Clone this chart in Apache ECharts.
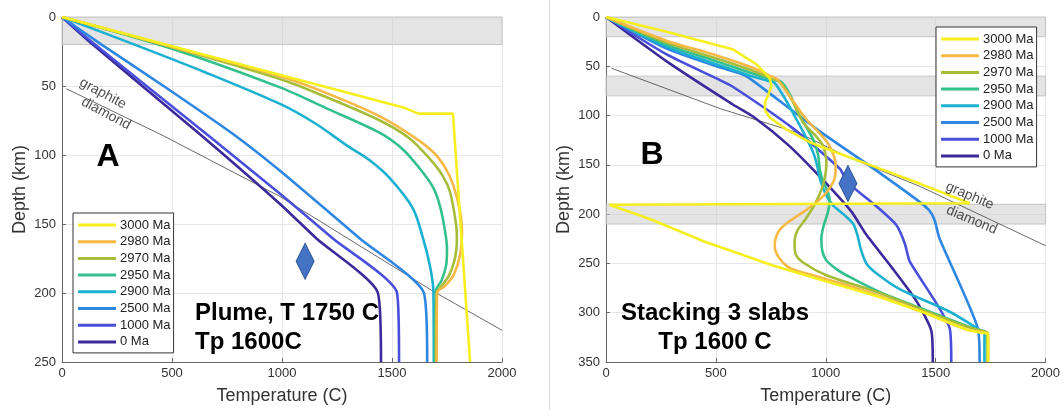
<!DOCTYPE html>
<html>
<head>
<meta charset="utf-8">
<script src="https://cdn.jsdelivr.net/npm/echarts@6/dist/echarts.min.js"></script>
<style>
html, body { margin: 0; padding: 0; background: #fff; }
#main { width: 1063px; height: 410px; }
</style>
</head>
<body>
<div id="main"></div>
<script>
// legend entries and colours (parula-like)
var ages = ['3000 Ma', '2980 Ma', '2970 Ma', '2950 Ma', '2900 Ma', '2500 Ma', '1000 Ma', '0 Ma'];
var ageColors = ['#F5EF1F', '#F6B945', '#A5BD3B', '#33C08C', '#1DB1D1', '#2E87E3', '#4A4FDB', '#3B2A9C'];

var tempRange = [0, 2000];
var depthMaxA = 250;
var depthMaxB = 350;

// grey slab bands (depth km)
var bandsA = [[0, 20]];
var bandsB = [[0, 20], [60, 80], [190, 210]];

// graphite / diamond boundary [T, depth]
var gdLineA = [[20, 52], [460, 86], [990, 130], [1690, 199], [2000, 227]];
var gdLineB = [[25, 52], [520, 93], [880, 118], [1110, 143], [1430, 172], [2000, 232]];
var gdLabelsA = [[186, 55.5, 'graphite'], [200, 70, 'diamond']];
var gdLabelsB = [[1655, 181.5, 'graphite'], [1664, 206, 'diamond']];

var diamondA = [[1105, 177]];
var diamondB = [[1101, 169]];

// panel A: plume, T 1750 C
var plume3000 = [[0,0],[1560,66],[1620,70],[1777,70],[1855,250]];
var plume2980 = [[0,0],[500,21.5],[991,43],[1200,55],[1445,72],[1600,87],[1688,98],[1745,110],[1779,122],[1808,140],[1818,155],[1810,172],[1780,187],[1740,195],[1705,200],[1703,250]];
var plume2970 = [[0,0],[500,22],[991,45],[1200,58],[1445,75],[1580,88],[1673,103],[1730,115],[1764,127],[1791,150],[1795,162],[1786,175],[1760,187],[1725,195],[1703,200],[1700,250]];
var plume2950 = [[0,0],[500,23],[991,51],[1200,66],[1445,84],[1550,96],[1627,110],[1685,123],[1718,137],[1741,155],[1750,168],[1746,180],[1725,191],[1700,198],[1695,250]];
var plume2900 = [[0,0],[330,20],[650,40],[991,63],[1150,77],[1294,93],[1400,104],[1491,117],[1596,139],[1642,161],[1672,180],[1688,198],[1690,250]];
var plume2500 = [[0,0],[180,20],[480,52],[779,85],[991,111.5],[1355,160.7],[1645,200],[1660,250]];
var plume1000 = [[0,0],[150,20],[658,85],[991,128],[1233,160.7],[1523,200],[1532,250]];
var plume0 = [[0,0],[140,20],[627,85],[991,135.5],[1158,160.7],[1436,200],[1450,250]];

// panel B: stacking 3 slabs
var stack3000 = [[0,0],[276,15],[579,33],[685,48],[745,62],[753,70],[740,78],[725,86],[722,94],[745,102],[790,109],[821,114],[927,127],[1018,135],[1200,150],[1427,169],[1655,189],[1655,190.5],[15,190.5],[200,205],[450,228],[760,252],[1000,268],[1245,284],[1450,300],[1640,317],[1700,320],[1738,321],[1738,350]];
var stack2980 = [[0,0],[276,24],[503,39],[650,50],[750,60],[783,64],[850,85],[912,104],[980,120],[1018,131],[1045,150],[1040,164],[1010,176],[973,185],[897,198],[830,208],[790,216],[770,226],[768,233],[790,245],[840,255],[942,262],[1094,272],[1245,283],[1450,300],[1640,317],[1720,320],[1738,322],[1738,350]];
var stack2970 = [[0,0],[276,26],[503,42],[650,53],[750,62],[791,66],[850,86],[897,107],[960,122],[988,131],[1003,148],[995,164],[975,178],[945,192],[905,206],[870,217],[858,228],[862,240],[897,249],[1003,262],[1245,280],[1450,298],[1640,314],[1720,319],[1738,321],[1738,350]];
var stack2950 = [[0,0],[276,28],[503,45],[650,56],[750,63],[798,66],[840,80],[874,97],[942,124],[965,140],[973,155],[985,165],[1010,178],[1018,186],[1010,198],[990,212],[980,225],[985,238],[1003,247],[1050,256],[1094,262],[1245,279],[1450,297],[1685,317],[1730,320],[1735,350]];
var stack2900 = [[0,0],[276,30],[503,48],[650,59],[740,65],[768,67],[820,85],[867,104],[910,122],[942,137],[960,150],[973,164],[1000,180],[1033,191],[1080,200],[1125,210],[1145,222],[1160,236],[1185,250],[1230,260],[1336,276],[1564,299],[1712,319],[1722,320],[1722,350]];
var stack2500 = [[0,0],[276,32],[503,50],[620,58],[662,63.5],[973,116],[1200,151],[1412,185],[1470,196],[1495,206],[1518,225],[1692,316],[1700,350]];
var stack1000 = [[0,0],[276,38],[518,64],[579,71],[845,112],[1064,154],[1101,168],[1230,192],[1321,211],[1360,230],[1382,248],[1564,316],[1571,350]];
var stack0 = [[0,0],[276,45],[579,89],[669,101],[830,130],[973,162],[1115,197],[1185,221],[1300,254],[1412,288],[1480,318],[1487,350]];

var plumeCurves = [plume3000, plume2980, plume2970, plume2950, plume2900, plume2500, plume1000, plume0];
var stackCurves = [stack3000, stack2980, stack2970, stack2950, stack2900, stack2500, stack1000, stack0];
var plumeSmooth = [0, 0.3, 0.3, 0.3, 0.3, 0.2, 0.2, 0.2];
var stackSmooth = [0, 0.3, 0.3, 0.3, 0.3, 0.2, 0.2, 0.2];

var FONT = 'Arial, "Liberation Sans", Helvetica, sans-serif';

var grids = [
    { left: 62, top: 17, width: 440, height: 347 },
    { left: 606, top: 17, width: 440, height: 347 }
];

function plainNum(v) { return String(v); }

function xAxisFor(i) {
    return {
        gridIndex: i, type: 'value', min: tempRange[0], max: tempRange[1], interval: 500,
        position: 'bottom',
        name: 'Temperature (C)', nameLocation: 'middle', nameGap: 25,
        nameTextStyle: { fontSize: 18, color: '#333', fontFamily: FONT },
        axisLine: { show: true, onZero: false, lineStyle: { color: '#666', width: 1 } },
        axisTick: { show: true, inside: true, length: 4, lineStyle: { color: '#666' } },
        axisLabel: { fontSize: 13, color: '#333', margin: 5, fontFamily: FONT, formatter: plainNum },
        splitLine: { show: true, lineStyle: { color: '#e6e6e6', width: 1 } }
    };
}
function yAxisFor(i, max) {
    return {
        gridIndex: i, type: 'value', min: 0, max: max, interval: 50, inverse: true,
        position: 'left',
        name: 'Depth (km)', nameLocation: 'middle', nameGap: 33,
        nameTextStyle: { fontSize: 18, color: '#333', fontFamily: FONT },
        axisLine: { show: true, onZero: false, lineStyle: { color: '#666', width: 1 } },
        axisTick: { show: true, inside: true, length: 4, lineStyle: { color: '#666' } },
        axisLabel: { fontSize: 13, color: '#333', margin: 6, fontFamily: FONT, formatter: plainNum },
        splitLine: { show: true, lineStyle: { color: '#e6e6e6', width: 1 } }
    };
}

function bandAreas(bands) {
    return bands.map(function (b) {
        return [{ yAxis: b[0], xAxis: tempRange[0] }, { yAxis: b[1], xAxis: tempRange[1] }];
    });
}

var series = [];
function addPanel(i, curves, smooth, bands, gdLine, gdLabels, diamond, rot) {
    series.push({
        type: 'line', xAxisIndex: i, yAxisIndex: i, name: 'gd' + i,
        data: gdLine, showSymbol: false, symbol: 'none', z: 1, silent: true,
        lineStyle: { color: '#444', width: 0.8 },
        markArea: {
            silent: true,
            itemStyle: { color: 'rgba(205,205,205,0.55)', borderColor: '#c4c4c4', borderWidth: 1 },
            data: bandAreas(bands)
        }
    });
    curves.forEach(function (c, k) {
        series.push({
            type: 'line', name: ages[k], xAxisIndex: i, yAxisIndex: i,
            data: c, showSymbol: false, symbol: 'none', smooth: smooth[k], z: 2 + (8 - k) * 0.01,
            color: ageColors[k],
            lineStyle: { color: ageColors[k], width: 2.6 }
        });
    });
    series.push({
        type: 'scatter', xAxisIndex: i, yAxisIndex: i, name: 'lbl' + i,
        data: gdLabels.map(function (d) { return { value: [d[0], d[1]], label: { formatter: d[2] } }; }),
        symbolSize: 1, itemStyle: { color: 'transparent' }, z: 5, silent: true,
        label: { show: true, position: 'inside', rotate: rot, fontSize: 14, color: '#222', fontFamily: FONT }
    });
    series.push({
        type: 'scatter', xAxisIndex: i, yAxisIndex: i, name: 'dm' + i,
        data: diamond, symbol: 'diamond', symbolSize: [18, 36], z: 6, silent: true,
        itemStyle: { color: '#4472C4', borderColor: '#2F5597', borderWidth: 1, opacity: 1 }
    });
}
addPanel(0, plumeCurves, plumeSmooth, bandsA, gdLineA, gdLabelsA, diamondA, -28);
addPanel(1, stackCurves, stackSmooth, bandsB, gdLineB, gdLabelsB, diamondB, -23);

function legendAt(left, top) {
    return {
        data: ages, orient: 'vertical', left: left, top: top,
        icon: 'rect', itemWidth: 38, itemHeight: 3, itemGap: 2.7,
        padding: [5, 3, 4, 5],
        backgroundColor: '#fff', borderColor: '#333', borderWidth: 1, borderRadius: 0,
        selectedMode: false,
        textStyle: { fontSize: 13, color: '#222', lineHeight: 14, fontFamily: FONT, padding: [0, 0, 0, -1] }
    };
}

var bigText = { fontFamily: FONT, fontWeight: 'bold', fill: '#000' };
var graphics = [
    { type: 'line', shape: { x1: 549.5, y1: 0, x2: 549.5, y2: 410 }, style: { stroke: '#dddddd', lineWidth: 1 } },
    { type: 'text', x: 108, y: 157, style: Object.assign({ text: 'A', fontSize: 32, align: 'center', verticalAlign: 'middle' }, bigText) },
    { type: 'text', x: 652, y: 155, style: Object.assign({ text: 'B', fontSize: 32, align: 'center', verticalAlign: 'middle' }, bigText) },
    { type: 'text', x: 195, y: 313, style: Object.assign({ text: 'Plume, T 1750 C', fontSize: 24, align: 'left', verticalAlign: 'middle' }, bigText) },
    { type: 'text', x: 195, y: 342, style: Object.assign({ text: 'Tp 1600C', fontSize: 24, align: 'left', verticalAlign: 'middle' }, bigText) },
    { type: 'text', x: 715, y: 313, style: Object.assign({ text: 'Stacking 3 slabs', fontSize: 24, align: 'center', verticalAlign: 'middle' }, bigText) },
    { type: 'text', x: 715, y: 342, style: Object.assign({ text: 'Tp 1600 C', fontSize: 24, align: 'center', verticalAlign: 'middle' }, bigText) }
];
graphics.forEach(function (g) { g.z = 10; g.silent = true; });

var chart = echarts.init(document.getElementById('main'), null, { renderer: 'canvas' });
chart.setOption({
    animation: false,
    backgroundColor: '#fff',
    textStyle: { fontFamily: FONT },
    grid: grids,
    xAxis: [xAxisFor(0), xAxisFor(1)],
    yAxis: [yAxisFor(0, depthMaxA), yAxisFor(1, depthMaxB)],
    legend: [legendAt(73, 213), legendAt(936, 27)],
    series: series,
    graphic: graphics
});
</script>
</body>
</html>
